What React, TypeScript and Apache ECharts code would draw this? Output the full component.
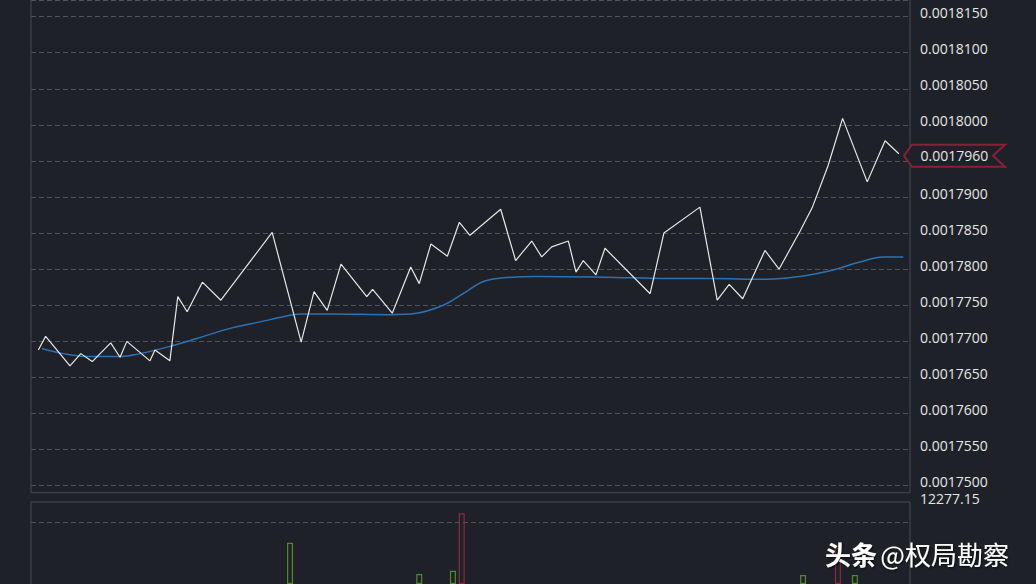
import React, { useEffect, useRef } from "react";
import * as echarts from "echarts";

// Price line (time in minutes from start, price)
const priceTimes = [2.5, 5.0, 13.3, 17.0, 20.9, 27.2, 30.4, 32.7, 40.6, 42.3, 47.4, 50.1, 53.3, 58.5, 64.8, 82.3, 92.2, 96.6, 101.1, 105.8, 114.6, 116.6, 123.3, 129.6, 132.5, 136.5, 142.1, 146.2, 149.8, 160.3, 165.4, 170.9, 174.3, 177.7, 183.4, 186.0, 188.5, 192.8, 195.9, 211.3, 216.0, 228.3, 234.2, 238.3, 242.9, 250.5, 255.3, 262.5, 266.6, 272.0, 277.0, 285.4, 291.5, 296.2];
const priceValues = [0.0017688, 0.0017707, 0.0017666, 0.0017683, 0.0017672, 0.0017698, 0.0017678, 0.00177, 0.0017673, 0.0017688, 0.0017673, 0.0017762, 0.0017741, 0.0017782, 0.0017757, 0.0017851, 0.0017699, 0.0017769, 0.0017743, 0.0017807, 0.0017762, 0.0017772, 0.0017739, 0.0017803, 0.001778, 0.0017835, 0.0017818, 0.0017865, 0.0017847, 0.0017883, 0.0017812, 0.0017839, 0.0017817, 0.0017831, 0.0017839, 0.0017796, 0.0017812, 0.0017792, 0.0017829, 0.0017766, 0.001785, 0.0017886, 0.0017757, 0.0017779, 0.0017759, 0.0017826, 0.00178, 0.0017853, 0.0017885, 0.0017943, 0.0018009, 0.0017921, 0.0017978, 0.001796];

// Moving average
const maTimes = [3.7, 11.0, 20.1, 30.4, 37.2, 47.4, 56.6, 67.9, 78.2, 86.1, 91.8, 103.2, 122.5, 131.6, 140.7, 147.5, 154.4, 161.2, 172.6, 195.3, 218.1, 231.7, 251.1, 262.5, 273.8, 282.9, 290.9, 297.7];
const maValues = [0.001769, 0.0017683, 0.0017679, 0.0017679, 0.0017683, 0.0017693, 0.0017704, 0.0017718, 0.0017727, 0.0017734, 0.0017738, 0.0017738, 0.0017737, 0.0017739, 0.001775, 0.0017766, 0.0017783, 0.0017788, 0.001779, 0.0017789, 0.0017787, 0.0017787, 0.0017786, 0.001779, 0.0017799, 0.001781, 0.0017817, 0.0017817];

// Volume
const volTimes = [88.4, 132.5, 144.0, 147.0, 263.5, 275.4, 281.2];
const volValues = [6183, 1497, 1991, 10585, 1347, 5390, 1347];
const volUp = [true, true, true, false, true, false, true];
const volMax = 12277.15;
const volRefLine = 9178;

// Axis
const priceMin = 0.00175;
const priceMax = 0.0018173;
const priceStep = 0.000005;
const priceLabelTop = 0.001815;
const timeMax = 300;

const BG = "#1f2128";
const GRID_LINE = "#4e525b";
const FRAME = "#474b56";
const LABEL = "#e6e6e6";
const UP = "#4e8c2e";
const DOWN = "#8e2a3c";

export default function App() {
  const ref = useRef<HTMLDivElement>(null);

  useEffect(() => {
    document.body.style.margin = "0";
    const chart = echarts.init(ref.current!, null, { renderer: "svg" });
    const last = priceValues[priceValues.length - 1];
    const option: any = {
      animation: false,
      backgroundColor: BG,
      grid: [
        { left: 31, right: 126, top: 0, bottom: 98.3 },
        { left: 31, right: 126, top: 502, bottom: 0 },
      ],
      xAxis: [
        { type: "value", gridIndex: 0, min: 0, max: timeMax, show: false },
        { type: "value", gridIndex: 1, min: 0, max: timeMax, show: false },
      ],
      yAxis: [
        {
          type: "value",
          gridIndex: 0,
          position: "right",
          min: priceMin,
          max: priceMax,
          interval: priceStep,
          axisLine: { show: false },
          axisTick: { show: false },
          axisLabel: {
            color: LABEL,
            fontFamily: "Open Sans",
            fontSize: 14,
            margin: 10,
            verticalAlign: "bottom",
            lineHeight: 8,
            formatter: (v: number) =>
              v > priceLabelTop + 1e-9 || Math.abs(v - last) < priceStep / 2
                ? ""
                : v.toFixed(7),
          },
          splitLine: {
            show: true,
            lineStyle: { color: GRID_LINE, type: [5, 3], width: 1 },
          },
        },
        {
          type: "value",
          gridIndex: 1,
          position: "right",
          min: 0,
          max: volMax,
          interval: volMax,
          axisLine: { show: false },
          axisTick: { show: false },
          splitLine: { show: false },
          axisLabel: {
            color: LABEL,
            fontFamily: "Open Sans",
            fontSize: 14,
            margin: 10,
            verticalAlign: "bottom",
            lineHeight: 8,
            formatter: (v: number) => (v >= volMax - 1e-6 ? volMax.toFixed(2) : ""),
          },
        },
      ],
      series: [
        {
          type: "line",
          xAxisIndex: 0,
          yAxisIndex: 0,
          data: maTimes.map((t, i) => [t, maValues[i]]),
          smooth: 0.4,
          symbol: "none",
          lineStyle: { color: "#2c72b3", width: 1.5 },
          z: 2,
        },
        {
          type: "line",
          xAxisIndex: 0,
          yAxisIndex: 0,
          data: priceTimes.map((t, i) => [t, priceValues[i]]),
          symbol: "none",
          lineStyle: { color: "#e8e8e8", width: 1.2 },
          z: 3,
        },
        {
          type: "bar",
          xAxisIndex: 1,
          yAxisIndex: 1,
          barWidth: 6,
          data: volTimes.map((t, i) => ({
            value: [t, volValues[i]],
            itemStyle: {
              color: "rgba(0,0,0,0)",
              borderColor: volUp[i] ? UP : DOWN,
              borderWidth: 1.2,
            },
          })),
          markLine: {
            silent: true,
            symbol: "none",
            label: { show: false },
            lineStyle: { color: GRID_LINE, type: [5, 3], width: 1 },
            data: [{ yAxis: volRefLine }],
          },
        },
      ],
    };
    chart.setOption(option);

    const yTag = (chart.convertToPixel({ yAxisIndex: 0 }, last) as number) + 2;
    const xEdge = chart.convertToPixel({ xAxisIndex: 0 }, timeMax) as number;

    chart.setOption({
      graphic: [
        {
          type: "rect",
          id: "frameMain",
          shape: { x: 31, y: -2, width: xEdge - 31, height: 494.7 },
          style: { fill: "none", stroke: FRAME, lineWidth: 1 },
          silent: true,
          z: 1,
        },
        {
          type: "rect",
          id: "frameVol",
          shape: { x: 31, y: 502, width: xEdge - 31, height: 100 },
          style: { fill: "none", stroke: FRAME, lineWidth: 1 },
          silent: true,
          z: 1,
        },
        {
          type: "polygon",
          id: "tag",
          shape: {
            points: [
              [xEdge - 6, yTag],
              [xEdge + 2, yTag - 11],
              [xEdge + 95, yTag - 11],
              [xEdge + 83, yTag],
              [xEdge + 95, yTag + 11],
              [xEdge + 2, yTag + 11],
            ],
          },
          style: { fill: BG, stroke: "#8a1f36", lineWidth: 2 },
          z: 100,
        },
        {
          type: "text",
          id: "tagText",
          x: xEdge + 10.5,
          y: yTag,
          style: {
            text: last.toFixed(7),
            fill: LABEL,
            font: '14px "Open Sans"',
            verticalAlign: "middle",
            align: "left",
          },
          z: 101,
        },
        {
          type: "text",
          id: "wm",
          x: 825,
          y: 553,
          style: {
            text: "{a|头条} {b|@权局勘察}",
            verticalAlign: "middle",
            align: "left",
            rich: {
              a: {
                fontFamily: "Noto Sans CJK SC",
                fontSize: 26,
                fontWeight: "bold",
                fill: "#ffffff",
                textShadowColor: "rgba(0,0,0,0.7)",
                textShadowBlur: 2,
                textShadowOffsetX: 1,
                textShadowOffsetY: 1,
              },
              b: {
                fontFamily: "Noto Sans CJK SC",
                fontSize: 26,
                fontWeight: "normal",
                fill: "#ffffff",
                textShadowColor: "rgba(0,0,0,0.7)",
                textShadowBlur: 2,
                textShadowOffsetX: 1,
                textShadowOffsetY: 1,
              },
            },
          },
          z: 200,
        },
      ],
    });

    return () => chart.dispose();
  }, []);

  return (
    <div
      ref={ref}
      style={{ position: "fixed", left: 0, top: 0, width: 1036, height: 584 }}
    />
  );
}
